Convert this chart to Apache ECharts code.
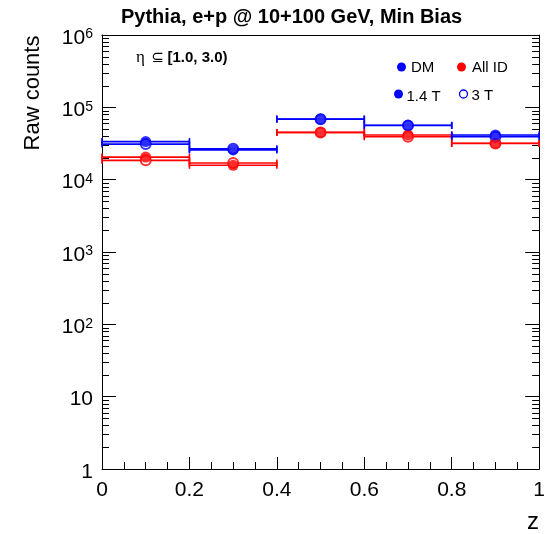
<!DOCTYPE html>
<html>
<head>
<meta charset="utf-8">
<script src="https://cdn.jsdelivr.net/npm/echarts@6/dist/echarts.min.js"></script>
<style>
html,body{margin:0;padding:0;background:#fff;}
#chart{width:548px;height:534px;}
</style>
</head>
<body>
<div id="chart"></div>
<script>
// ---- data ----
const binLo = [0.0, 0.2, 0.4, 0.6, 0.8];
const binHi = [0.2, 0.4, 0.6, 0.8, 1.0];
const binCenter = [0.1, 0.3, 0.5, 0.7, 0.9];
const dm14 = [33600, 25800, 69000, 56400, 41500];   // DM, 1.4 T (filled blue)
const dm3  = [31000, 26800, 68500, 56000, 39300];   // DM, 3 T (open blue)
const all14 = [20500, 15800, 45000, 41500, 31800];  // All ID, 1.4 T (filled red)
const all3  = [18500, 17000, 44800, 39200, 31600];  // All ID, 3 T (open red)
const xTicks = [0, 0.2, 0.4, 0.6, 0.8, 1];
const yDecades = [1, 10, 100, 1000, 10000, 100000, 1000000];

const BLUE = '#0000ff', RED = '#ff0000';
const FONT = 'Liberation Sans';

const chart = echarts.init(document.getElementById('chart'), null, {renderer: 'canvas'});

function barData(vals) {
  return vals.map((v, i) => [binLo[i], binHi[i], v]);
}
function pointData(vals) {
  return vals.map((v, i) => [binCenter[i], v]);
}
function errorBarSeries(vals, color) {
  return {
    type: 'custom',
    xAxisIndex: 0, yAxisIndex: 0,
    silent: true,
    z: 2,
    data: barData(vals),
    encode: {x: [0, 1], y: 2},
    renderItem: function (params, api) {
      const a = api.coord([api.value(0), api.value(2)]);
      const b = api.coord([api.value(1), api.value(2)]);
      const st = {stroke: color, lineWidth: 1.6};
      return {
        type: 'group',
        children: [
          {type: 'line', shape: {x1: a[0], y1: a[1], x2: b[0], y2: b[1]}, style: st},
          {type: 'line', shape: {x1: a[0], y1: a[1] - 3.5, x2: a[0], y2: a[1] + 3.5}, style: st},
          {type: 'line', shape: {x1: b[0], y1: b[1] - 3.5, x2: b[0], y2: b[1] + 3.5}, style: st}
        ]
      };
    }
  };
}

// minor tick values for log axis (2..9 per decade)
const minorVals = [];
for (let d = 0; d < yDecades.length - 1; d++) {
  for (let m = 2; m <= 9; m++) minorVals.push([yDecades[d] * m]);
}

const option = {
  backgroundColor: '#fff',
  animation: false,
  title: {
    text: 'Pythia, e+p @ 10+100 GeV, Min Bias',
    left: 121, top: 7, padding: 0,
    textStyle: {fontFamily: FONT, fontSize: 20, fontWeight: 'bold', color: '#000'}
  },
  grid: {left: 102, right: 7, top: 35, bottom: 65, containLabel: false},
  xAxis: [{
    type: 'value', min: 0, max: 1, interval: 0.2,
    axisLine: {show: true, onZero: false, lineStyle: {color: '#000', width: 1}},
    axisTick: {show: true, inside: true, length: 12, lineStyle: {color: '#000'}},
    minorTick: {show: true, splitNumber: 4, length: 7, lineStyle: {color: '#000'}},
    splitLine: {show: false},
    axisLabel: {fontFamily: FONT, fontSize: 21, color: '#000', margin: 11,
      formatter: function (v) { return xTicks.indexOf(Math.round(v * 10) / 10) >= 0 ? String(Math.round(v * 10) / 10) : ''; }}
  }, {
    type: 'value', min: 0, max: 1, position: 'top',
    axisLine: {show: true, onZero: false, lineStyle: {color: '#000', width: 1}},
    axisTick: {show: false}, axisLabel: {show: false}, splitLine: {show: false}
  }],
  yAxis: [{
    type: 'log', logBase: 10, min: 1, max: 1000000,
    axisLine: {show: true, onZero: false, lineStyle: {color: '#000', width: 1}},
    axisTick: {show: true, inside: true, length: 14, lineStyle: {color: '#000'}},
    splitLine: {show: false},
    axisLabel: {
      margin: 9, color: '#000', fontFamily: FONT, padding: [6, 0, 0, 0],
      formatter: function (v) {
        if (v < 1.5) return '{b|1}';
        if (v < 15) return '{b|10}';
        return '{b|10}{s|' + Math.round(Math.log10(v)) + '}';
      },
      rich: {
        b: {fontFamily: FONT, fontSize: 21, lineHeight: 21, padding: [6, 0, 0, 0], verticalAlign: 'bottom', color: '#000'},
        s: {fontFamily: FONT, fontSize: 14, lineHeight: 14, verticalAlign: 'top', color: '#000'}
      }
    }
  }, {
    type: 'log', logBase: 10, min: 1, max: 1000000, position: 'right',
    axisLine: {show: true, onZero: false, lineStyle: {color: '#000', width: 1}},
    axisTick: {show: true, inside: true, length: 14, lineStyle: {color: '#000'}},
    axisLabel: {show: false}, splitLine: {show: false}
  }],
  series: [
    {
      type: 'custom', silent: true, z: 1,
      xAxisIndex: 0, yAxisIndex: 0,
      data: minorVals,
      encode: {y: 0},
      renderItem: function (params, api) {
        const l = api.coord([0, api.value(0)]);
        const r = api.coord([1, api.value(0)]);
        const st = {stroke: '#000', lineWidth: 1};
        return {
          type: 'group',
          children: [
            {type: 'line', shape: {x1: l[0], y1: Math.round(l[1]) + 0.5, x2: l[0] + 7, y2: Math.round(l[1]) + 0.5}, style: st},
            {type: 'line', shape: {x1: r[0] - 7, y1: Math.round(r[1]) + 0.5, x2: r[0], y2: Math.round(r[1]) + 0.5}, style: st}
          ]
        };
      }
    },
    errorBarSeries(all3, RED),
    errorBarSeries(all14, RED),
    errorBarSeries(dm3, BLUE),
    errorBarSeries(dm14, BLUE),
    {type: 'scatter', name: 'All ID 3 T', data: pointData(all3), symbol: 'emptyCircle', symbolSize: 10, z: 3,
      itemStyle: {color: RED, borderColor: RED, borderWidth: 1.5}},
    {type: 'scatter', name: 'DM 3 T', data: pointData(dm3), symbol: 'emptyCircle', symbolSize: 10, z: 3,
      itemStyle: {color: BLUE, borderColor: BLUE, borderWidth: 1.5}},
    {type: 'scatter', name: 'All ID 1.4 T', data: pointData(all14), symbol: 'circle', symbolSize: 11, z: 4,
      itemStyle: {color: RED}},
    {type: 'scatter', name: 'DM 1.4 T', data: pointData(dm14), symbol: 'circle', symbolSize: 11, z: 4,
      itemStyle: {color: BLUE}}
  ],
  graphic: [
    {type: 'text', x: 32.5, y: 93, rotation: Math.PI / 2,
      style: {text: 'Raw counts', fontFamily: FONT, fontSize: 22, fill: '#000', align: 'center', verticalAlign: 'middle'}},
    {type: 'text', x: 533, y: 522,
      style: {text: 'z', fontFamily: FONT, fontSize: 24, fill: '#000', align: 'center', verticalAlign: 'middle'}},
    {type: 'text', x: 136, y: 58,
      style: {
        text: '{e|η}  {s|⊆} {b|[1.0, 3.0)}', align: 'left', verticalAlign: 'middle',
        rich: {
          e: {fontFamily: 'Liberation Serif', fontSize: 17, fill: '#000'},
          s: {fontFamily: 'DejaVu Sans', fontSize: 15, fill: '#000'},
          b: {fontFamily: FONT, fontSize: 15, fontWeight: 'bold', fill: '#000'}
        }
      }},
    {type: 'circle', shape: {cx: 401.5, cy: 67, r: 4.5}, style: {fill: BLUE}},
    {type: 'text', x: 411, y: 67.5, style: {text: 'DM', fontFamily: FONT, fontSize: 15, fill: '#000', verticalAlign: 'middle'}},
    {type: 'circle', shape: {cx: 461.5, cy: 67, r: 4.5}, style: {fill: RED}},
    {type: 'text', x: 472, y: 67.5, style: {text: 'All ID', fontFamily: FONT, fontSize: 15, fill: '#000', verticalAlign: 'middle'}},
    {type: 'circle', shape: {cx: 398.5, cy: 94, r: 4.5}, style: {fill: BLUE}},
    {type: 'text', x: 406.5, y: 97, style: {text: '1.4 T', fontFamily: FONT, fontSize: 15, fill: '#000', verticalAlign: 'middle'}},
    {type: 'circle', shape: {cx: 463.5, cy: 94, r: 4}, style: {fill: 'none', stroke: BLUE, lineWidth: 1.3}},
    {type: 'text', x: 471.5, y: 95.5, style: {text: '3 T', fontFamily: FONT, fontSize: 15, fill: '#000', verticalAlign: 'middle'}}
  ]
};

chart.setOption(option);
</script>
</body>
</html>
